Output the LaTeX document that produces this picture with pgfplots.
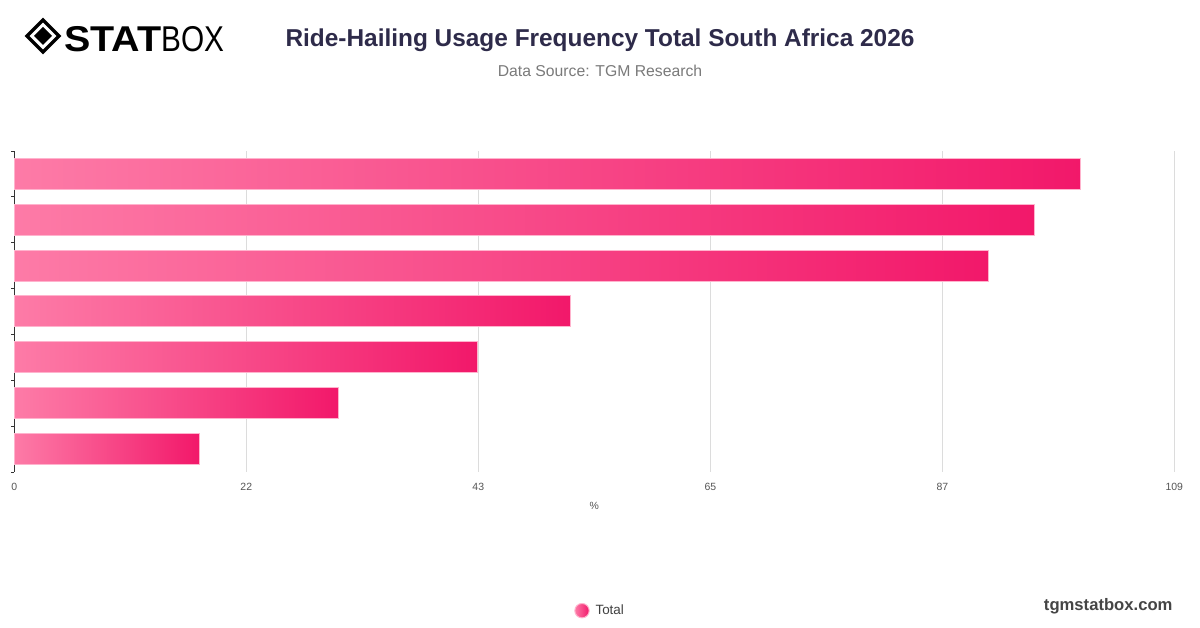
\documentclass[border=0pt]{standalone}
\usepackage{fontspec}
\setmainfont{Liberation Sans}
\usepackage{pgfplots}
\pgfplotsset{compat=1.18}
\definecolor{barL}{HTML}{FD7BA7}
\definecolor{barR}{HTML}{F2186A}
\definecolor{barEdge}{HTML}{FFB3CD}
\definecolor{titleC}{HTML}{2E2B4A}
\definecolor{subC}{HTML}{7A7A7A}
\definecolor{tickC}{HTML}{555555}
\definecolor{gridC}{HTML}{DCDCDC}
\begin{document}
\begin{tikzpicture}[x=1bp,y=1bp]
\path[use as bounding box, fill=white] (0,0) rectangle (1200,628);
% logo
\draw[line width=3.2bp, line join=miter] (43,608) -- (59,592) -- (43,576) -- (27,592) -- cycle;
\fill (43,601) -- (52,592) -- (43,583) -- (34,592) -- cycle;
\node[anchor=west, inner sep=0pt, xscale=1.1, font=\fontsize{36}{36}\selectfont\bfseries] at (64,589) {STAT};
\node[anchor=west, inner sep=0pt, xscale=0.83, font=\fontsize{36}{36}\selectfont] at (161,589) {BOX};
% titles
\node[font=\fontsize{24.5}{28}\selectfont\bfseries, text=titleC] at (600,588) {Ride-Hailing Usage Frequency Total South Africa 2026};
\node[font=\fontsize{15.8}{18}\selectfont, text=subC] at (600,557) {Data Source: TGM Research};
\node[anchor=east, font=\fontsize{16.7}{18}\selectfont\bfseries, text=black!73] at (1176,22) {tgmstatbox.com};
\begin{axis}[
  at={(14.3bp,156bp)}, anchor=south west,
  scale only axis, width=1160bp, height=321bp,
  xmin=0, xmax=109, ymin=0.5, ymax=7.5,
  axis lines*=left,
  x axis line style={draw=none},
  y axis line style={draw=black!80, line width=0.8bp},
  xtick={0,21.8,43.6,65.4,87.2,109},
  xticklabels={0,22,43,65,87,109},
  xmajorgrids, major grid style={draw=gridC, line width=0.8bp},
  xtick style={draw=none},
  ytick={0.5,1.5,...,7.5}, yticklabels={},
  ytick style={draw=black!80, line width=0.8bp},
  tick align=outside, major tick length=3bp,
  /pgf/number format/assume math mode=true,
  xticklabel style={font=\fontsize{10.5}{12}\selectfont, text=tickC, yshift=-5bp},
  xlabel={\%}, xlabel style={font=\fontsize{10.5}{12}\selectfont, text=tickC, yshift=-4bp},
  legend style={at={(rel axis cs:0.505,-0.432)}, anchor=center, draw=none, fill=none,
    font=\fontsize{13.5}{15}\selectfont, text=black!75},
  legend image code/.code={\shade[left color=barL, right color=barR] (0,0) circle (7.2bp); \path (11bp,0);},
  clip=false,
  every axis plot/.append style={xbar, bar width=0.676, bar shift=0, left color=barL, right color=barR, draw=barEdge, line width=1bp},
]
\addplot[] coordinates {(100.2,7)};
\addlegendentry{Total}
\addplot[forget plot] coordinates {(95.9,6)};
\addplot[forget plot] coordinates {(91.5,5)};
\addplot[forget plot] coordinates {(52.3,4)};
\addplot[forget plot] coordinates {(43.5,3)};
\addplot[forget plot] coordinates {(30.5,2)};
\addplot[forget plot] coordinates {(17.4,1)};
\end{axis}
\end{tikzpicture}
\end{document}
